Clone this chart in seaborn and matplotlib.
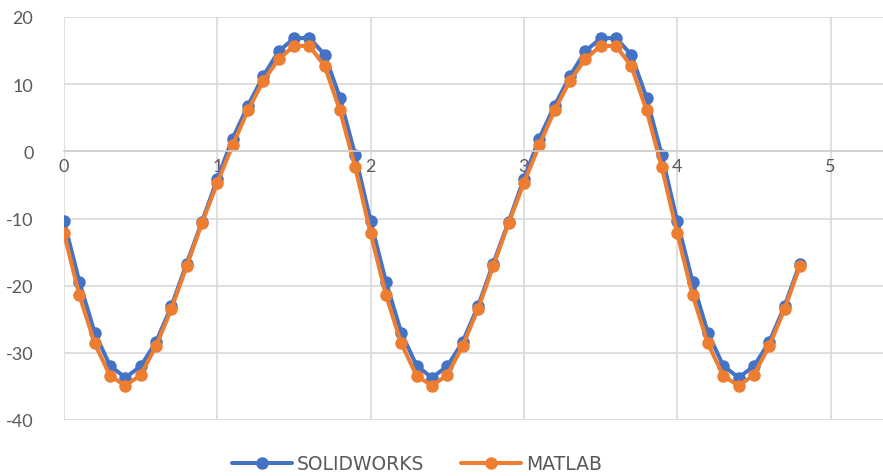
import numpy as np
import pandas as pd
import matplotlib
matplotlib.use("Agg")
import matplotlib.pyplot as plt
import seaborn as sns

# ------------------------------
# DATA
# ------------------------------
x_vals = [0.0, 0.1, 0.2, 0.3, 0.4, 0.5, 0.6, 0.7, 0.8, 0.9,
          1.0, 1.1, 1.2, 1.3, 1.4, 1.5, 1.6, 1.7, 1.8, 1.9,
          2.0, 2.1, 2.2, 2.3, 2.4, 2.5, 2.6, 2.7, 2.8, 2.9,
          3.0, 3.1, 3.2, 3.3, 3.4, 3.5, 3.6, 3.7, 3.8, 3.9,
          4.0, 4.1, 4.2, 4.3, 4.4, 4.5, 4.6, 4.7, 4.8]

solidworks = [-10.4, -19.4, -27.0, -31.9, -33.7, -32.0, -28.4, -23.1, -16.7, -10.5,
              -4.1, 1.9, 6.8, 11.2, 14.9, 16.8, 16.9, 14.4, 8.0, -0.6,
              -10.4, -19.4, -27.0, -31.9, -33.7, -32.0, -28.4, -23.1, -16.7, -10.5,
              -4.1, 1.9, 6.8, 11.2, 14.9, 16.8, 16.9, 14.4, 8.0, -0.6,
              -10.4, -19.4, -27.0, -31.9, -33.7, -32.0, -28.4, -23.1, -16.7]

matlab = [-12.2, -21.4, -28.6, -33.4, -34.9, -33.3, -29.0, -23.5, -17.1, -10.7,
          -4.7, 0.9, 6.1, 10.5, 13.7, 15.7, 15.7, 12.7, 6.1, -2.4,
          -12.2, -21.4, -28.6, -33.4, -34.9, -33.3, -29.0, -23.5, -17.1, -10.7,
          -4.7, 0.9, 6.1, 10.5, 13.7, 15.7, 15.7, 12.7, 6.1, -2.4,
          -12.2, -21.4, -28.6, -33.4, -34.9, -33.3, -29.0, -23.5, -17.1]

series_names = ["SOLIDWORKS", "MATLAB"]
colors = ["#4472C4", "#ED7D31"]
x_ticks = [0, 1, 2, 3, 4, 5]
y_ticks = [20, 10, 0, -10, -20, -30, -40]

df = pd.DataFrame({
    "x": x_vals * 2,
    "y": solidworks + matlab,
    "series": [series_names[0]] * len(x_vals) + [series_names[1]] * len(x_vals),
})

# ------------------------------
# PLOT
# ------------------------------
sns.set_theme(style="white")
plt.rcParams["font.family"] = ["Lato", "DejaVu Sans"]
plt.rcParams["axes.unicode_minus"] = False

fig = plt.figure(figsize=(8.83, 4.77), dpi=100)
ax = fig.add_axes([64 / 883, 1 - 421 / 477, 1 - 64 / 883, (421 - 18) / 477])

sns.lineplot(data=df, x="x", y="y", hue="series", palette=colors,
             marker="o", markersize=9, markeredgewidth=0, linewidth=2.9,
             ax=ax, legend=True)

ax.set_xlim(0, (883 - 64) / 153.3)
ax.set_ylim(-40, 20)
ax.set_xticks(x_ticks)
ax.set_yticks(y_ticks)
ax.grid(True, color="#D9D9D9", linewidth=1.2)
ax.set_axisbelow(True)
for s in ["top", "right", "left"]:
    ax.spines[s].set_visible(False)
ax.spines["bottom"].set_position(("data", 0))
ax.spines["bottom"].set_color("#D0D0D0")
ax.spines["bottom"].set_linewidth(1.2)
ax.tick_params(axis="both", length=0, labelsize=13, labelcolor="#595959")
ax.tick_params(axis="x", pad=5)
ax.tick_params(axis="y", pad=22)
ax.set_xlabel("")
ax.set_ylabel("")

handles, labels = ax.get_legend_handles_labels()
ax.legend(handles, labels, loc="center", bbox_to_anchor=(417 / 883, 1 - 465 / 477),
          bbox_transform=fig.transFigure, ncol=2, frameon=False,
          prop={"family": "DejaVu Sans", "size": 13.5}, labelcolor="#595959",
          handlelength=3.2, handletextpad=0.25, columnspacing=2.0)

fig.savefig("out.png", dpi=100)
